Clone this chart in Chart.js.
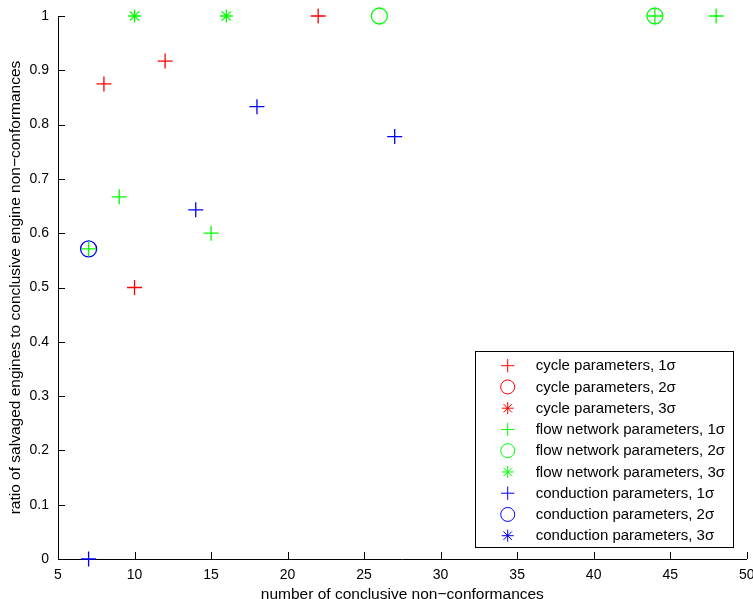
<!DOCTYPE html>
<html lang="en">
<head>
<meta charset="UTF-8">
<title>Salvaged engines vs conclusive non-conformances</title>
<script src="https://cdn.jsdelivr.net/npm/chart.js"></script>
<style>
  html, body { margin: 0; padding: 0; background: #fff; overflow: hidden; }
  /* slightly wider than the window: the "50" label is cut at the right edge like in the original */
  #wrap { width: 756px; height: 599px; position: relative; }
</style>
</head>
<body>
<div id="wrap"><canvas id="chart"></canvas></div>
<script>
// x = number of conclusive non-conformances, y = ratio of salvaged engines
const cycle1X = [8, 10, 12, 22];
const cycle1Y = [0.875, 0.5, 0.917, 1];
const cycle2X = [];
const cycle2Y = [];
const cycle3X = [];
const cycle3Y = [];
const flow1X = [7, 9, 15, 44, 48];
const flow1Y = [0.571, 0.667, 0.6, 1, 1];
const flow2X = [26, 44];
const flow2Y = [1, 1];
const flow3X = [10, 16];
const flow3Y = [1, 1];
const cond1X = [7, 14, 18, 27];
const cond1Y = [0, 0.643, 0.833, 0.778];
const cond2X = [7];
const cond2Y = [0.571];
const cond3X = [];
const cond3Y = [];

const xTicks = [5, 10, 15, 20, 25, 30, 35, 40, 45, 50];
const yTicks = [0, 0.1, 0.2, 0.3, 0.4, 0.5, 0.6, 0.7, 0.8, 0.9, 1];

const FONT = '"Liberation Sans", Arial, Helvetica, sans-serif';
const RED = '#ff0000', GREEN = '#00ff00', BLUE = '#0000ff';

function pts(xs, ys) {
    return xs.map((x, i) => ({ x: x, y: ys[i] }));
}

function series(label, xs, ys, color, style) {
    const r = style === 'circle' ? 8 : (style === 'star' ? 6.5 : 7.5);
    return {
        label: label,
        data: pts(xs, ys),
        showLine: false,
        clip: false,
        borderColor: color,
        backgroundColor: 'rgba(0,0,0,0)',
        pointStyle: style,
        pointRadius: r,
        pointHoverRadius: r,
        pointBorderWidth: 1.3,
        pointHoverBorderWidth: 1.3
    };
}

// MATLAB style ticks pointing into the plot
const inwardTicks = {
    id: 'inwardTicks',
    afterDraw(chart) {
        const { ctx, chartArea: a, scales } = chart;
        ctx.save();
        ctx.strokeStyle = '#000';
        ctx.lineWidth = 1;
        ctx.beginPath();
        xTicks.forEach(v => {
            const px = Math.round(scales.x.getPixelForValue(v)) + 0.5;
            ctx.moveTo(px, a.bottom);
            ctx.lineTo(px, a.bottom - 7);
        });
        yTicks.forEach(v => {
            const py = Math.round(scales.y.getPixelForValue(v)) + 0.5;
            ctx.moveTo(a.left, py);
            ctx.lineTo(a.left + 7, py);
        });
        ctx.stroke();
        ctx.restore();
    }
};

// boxed legend in the lower right corner of the axes
const boxLegend = {
    id: 'boxLegend',
    afterDraw(chart) {
        const { ctx, chartArea: a } = chart;
        const w = 258, h = 196, rowH = 21.25;
        const left = Math.round(a.right - 14 - w), top = Math.round(a.bottom - 12 - h);
        ctx.save();
        ctx.fillStyle = '#fff';
        ctx.fillRect(left, top, w, h);
        ctx.strokeStyle = '#000';
        ctx.lineWidth = 1;
        ctx.strokeRect(left + 0.5, top + 0.5, w, h);
        ctx.font = '15px ' + FONT;
        ctx.textBaseline = 'middle';
        chart.data.datasets.forEach((ds, i) => {
            const y = top + 14.7 + i * rowH;
            ctx.strokeStyle = ds.borderColor;
            ctx.fillStyle = 'rgba(0,0,0,0)';
            Chart.helpers.drawPoint(ctx, {
                pointStyle: ds.pointStyle,
                rotation: 0,
                radius: ds.pointStyle === 'circle' ? 7 : (ds.pointStyle === 'star' ? 6 : 6.7),
                borderWidth: 1.3
            }, left + 32.7, y);
            ctx.fillStyle = '#000';
            ctx.fillText(ds.label, left + 60.7, y + 0.5);
        });
        ctx.restore();
    }
};

new Chart(document.getElementById('chart'), {
    type: 'scatter',
    data: {
        datasets: [
            series('cycle parameters, 1σ', cycle1X, cycle1Y, RED, 'cross'),
            series('cycle parameters, 2σ', cycle2X, cycle2Y, RED, 'circle'),
            series('cycle parameters, 3σ', cycle3X, cycle3Y, RED, 'star'),
            series('flow network parameters, 1σ', flow1X, flow1Y, GREEN, 'cross'),
            series('flow network parameters, 2σ', flow2X, flow2Y, GREEN, 'circle'),
            series('flow network parameters, 3σ', flow3X, flow3Y, GREEN, 'star'),
            series('conduction parameters, 1σ', cond1X, cond1Y, BLUE, 'cross'),
            series('conduction parameters, 2σ', cond2X, cond2Y, BLUE, 'circle'),
            series('conduction parameters, 3σ', cond3X, cond3Y, BLUE, 'star')
        ]
    },
    options: {
        responsive: true,
        maintainAspectRatio: false,
        animation: false,
        events: [],
        layout: { padding: { top: 16, right: 3, left: 0, bottom: 0 } },
        plugins: {
            legend: { display: false },
            tooltip: { enabled: false }
        },
        scales: {
            x: {
                type: 'linear',
                min: 5,
                max: 50,
                grid: { display: false, drawTicks: false },
                border: { display: true, color: '#000', width: 1 },
                afterBuildTicks: s => { s.ticks = xTicks.map(v => ({ value: v })); },
                afterFit: s => { s.height = 40; s.paddingLeft = 0; s.paddingRight = 0; },
                ticks: {
                    padding: 8,
                    maxRotation: 0,
                    color: '#000',
                    font: { family: FONT, size: 14 }
                },
                title: {
                    display: true,
                    text: 'number of conclusive non−conformances',
                    color: '#000',
                    padding: { top: 0, bottom: -5 },
                    font: { family: FONT, size: 15.5 }
                }
            },
            y: {
                type: 'linear',
                min: 0,
                max: 1,
                grid: { display: false, drawTicks: false },
                border: { display: true, color: '#000', width: 1 },
                afterBuildTicks: s => { s.ticks = yTicks.map(v => ({ value: v })); },
                afterFit: s => { s.width = 58; s.paddingTop = 0; s.paddingBottom = 0; },
                ticks: {
                    padding: 9,
                    color: '#000',
                    font: { family: FONT, size: 14 },
                    callback: v => String(+v.toFixed(1))
                },
                title: {
                    display: true,
                    text: 'ratio of salvaged engines to conclusive engine non−conformances',
                    color: '#000',
                    padding: { top: 6, bottom: 0 },
                    font: { family: FONT, size: 15.5 }
                }
            }
        }
    },
    plugins: [inwardTicks, boxLegend]
});
</script>
</body>
</html>
